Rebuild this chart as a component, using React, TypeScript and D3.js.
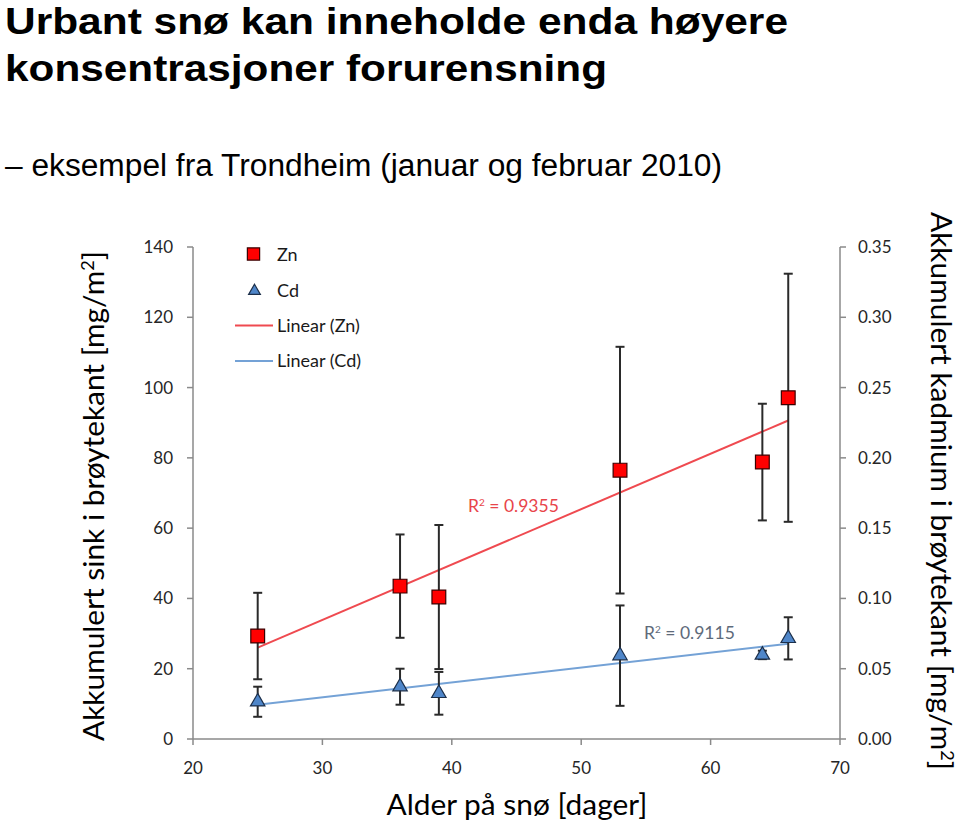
import React from 'react';
import * as d3 from 'd3';

const days = [25, 36, 39, 53, 64, 66];
const znValues = [29.3, 43.5, 40.4, 76.5, 78.8, 97.1];
const znErrors = [12.3, 14.7, 20.5, 35.1, 16.6, 35.3];
const cdValues = [0.0265, 0.0372, 0.0325, 0.0593, 0.0598, 0.0716];
const cdErrors = [0.0107, 0.0128, 0.0152, 0.0357, 0.003, 0.015];

const xTicks = [20, 30, 40, 50, 60, 70];
const yLeftTicks = [0, 20, 40, 60, 80, 100, 120, 140];
const yRightTicks = [0, 0.05, 0.1, 0.15, 0.2, 0.25, 0.3, 0.35];

const titleLines = ['Urbant snø kan inneholde enda høyere', 'konsentrasjoner forurensning'];
const subtitle = '– eksempel fra Trondheim (januar og februar 2010)';
const legendLabels = ['Zn', 'Cd', 'Linear (Zn)', 'Linear (Cd)'];
const r2Labels = ['0.9355', '0.9115'];

function linReg(xs: number[], ys: number[]) {
  const mx = d3.mean(xs)!;
  const my = d3.mean(ys)!;
  let sxy = 0, sxx = 0;
  xs.forEach((xv, i) => { sxy += (xv - mx) * (ys[i] - my); sxx += (xv - mx) ** 2; });
  const slope = sxy / sxx;
  const intercept = my - slope * mx;
  return (v: number) => intercept + slope * v;
}

const chartFont = 'Lato, "Open Sans", sans-serif';

export default function App() {
  const x = d3.scaleLinear().domain([20, 70]).range([193, 840]);
  const yL = d3.scaleLinear().domain([0, 140]).range([739, 247]);
  const yR = d3.scaleLinear().domain([0, 0.35]).range([739, 247]);

  const znFit = linReg(days, znValues);
  const cdFit = linReg(days, cdValues);
  const xMin = d3.min(days)!, xMax = d3.max(days)!;
  const line = d3.line<[number, number]>();

  const sq = d3.symbol().type(d3.symbolSquare).size(190)()!;
  const tri = d3.symbol().type(d3.symbolTriangle).size(90)()!;
  const sqLeg = d3.symbol().type(d3.symbolSquare).size(150)()!;
  const triLeg = d3.symbol().type(d3.symbolTriangle).size(60)()!;

  const axisColor = '#8a8a8a';
  const tickColor = '#262626';
  const errColor = '#2a2a2a';
  const cap = 4.5;

  const errBar = (cx: number, y1: number, y2: number, key: string) => (
    <g key={key} stroke={errColor} strokeWidth={2}>
      <line x1={cx} x2={cx} y1={y1} y2={y2} />
      <line x1={cx - cap} x2={cx + cap} y1={y1} y2={y1} />
      <line x1={cx - cap} x2={cx + cap} y1={y2} y2={y2} />
    </g>
  );

  return (
    <svg width={960} height={823} style={{ position: 'absolute', left: 0, top: 0, background: '#fff' }}>
      <rect width={960} height={823} fill="#fff" />
      {/* Titles */}
      <g fontFamily='"Liberation Sans", Arial, sans-serif' fill="#000">
        <text x={5} y={34} fontSize={37} fontWeight="bold" textLength={783} lengthAdjust="spacingAndGlyphs">{titleLines[0]}</text>
        <text x={5} y={81} fontSize={37} fontWeight="bold" textLength={602} lengthAdjust="spacingAndGlyphs">{titleLines[1]}</text>
        <text x={5} y={176} fontSize={31} textLength={717} lengthAdjust="spacingAndGlyphs">{subtitle}</text>
      </g>

      {/* Axes */}
      <g stroke={axisColor} strokeWidth={1.5} fill="none">
        <line x1={x(20)} x2={x(70)} y1={yL(0)} y2={yL(0)} />
        <line x1={x(20)} x2={x(20)} y1={yL(0)} y2={yL(140)} />
        <line x1={x(70)} x2={x(70)} y1={yR(0)} y2={yR(0.35)} />
        {xTicks.map(t => <line key={'xt' + t} x1={x(t)} x2={x(t)} y1={yL(0)} y2={yL(0) + 6} />)}
        {yLeftTicks.map(t => <line key={'yl' + t} x1={x(20) - 6} x2={x(20)} y1={yL(t)} y2={yL(t)} />)}
        {yRightTicks.map(t => <line key={'yr' + t} x1={x(70)} x2={x(70) + 6} y1={yR(t)} y2={yR(t)} />)}
      </g>
      <g fontFamily={chartFont} fontSize={17} fill={tickColor}>
        {xTicks.map(t => <text key={'xl' + t} x={x(t)} y={774} textAnchor="middle">{t}</text>)}
        {yLeftTicks.map(t => <text key={'yll' + t} x={173} y={yL(t)} dy="0.35em" textAnchor="end">{t}</text>)}
        {yRightTicks.map(t => <text key={'yrl' + t} x={858} y={yR(t)} dy="0.35em">{d3.format('.2f')(t)}</text>)}
      </g>

      {/* Axis titles */}
      <g fontFamily={chartFont} fill="#000">
        <text x={517} y={815} fontSize={28} textAnchor="middle" textLength={261} lengthAdjust="spacingAndGlyphs">Alder på snø [dager]</text>
        <text transform="translate(104,496) rotate(-90)" fontSize={28} textAnchor="middle" textLength={490} lengthAdjust="spacingAndGlyphs">
          Akkumulert sink i brøytekant [mg/m<tspan baselineShift="super" fontSize={17}>2</tspan>]
        </text>
        <text transform="translate(931,491) rotate(90)" fontSize={28} textAnchor="middle" textLength={558} lengthAdjust="spacingAndGlyphs">
          Akkumulert kadmium i brøytekant [mg/m<tspan baselineShift="super" fontSize={17}>2</tspan>]
        </text>
      </g>

      {/* Trendlines */}
      <path d={line([[x(xMin), yL(znFit(xMin))], [x(xMax), yL(znFit(xMax))]])!} stroke="#ef4a50" strokeWidth={2} fill="none" />
      <path d={line([[x(xMin), yR(cdFit(xMin))], [x(xMax), yR(cdFit(xMax))]])!} stroke="#74a2d6" strokeWidth={2} fill="none" />

      {/* Error bars */}
      {days.map((d, i) => errBar(x(d), yL(znValues[i] + znErrors[i]), yL(znValues[i] - znErrors[i]), 'ez' + i))}
      {days.map((d, i) => errBar(x(d), yR(cdValues[i] + cdErrors[i]), yR(cdValues[i] - cdErrors[i]), 'ec' + i))}

      {/* Markers */}
      {days.map((d, i) => (
        <path key={'mz' + i} d={sq} transform={`translate(${x(d)},${yL(znValues[i])})`} fill="#ff0000" stroke="#3a0000" strokeWidth={1.2} />
      ))}
      {days.map((d, i) => (
        <path key={'mc' + i} d={tri} transform={`translate(${x(d)},${yR(cdValues[i])})`} fill="#4f86c9" stroke="#1c2f4a" strokeWidth={1.2} />
      ))}

      {/* R² labels */}
      <text x={468} y={512} fontFamily={chartFont} fontSize={17.5} fill="#e8444a">
        R<tspan baselineShift="super" fontSize={10}>2</tspan> = {r2Labels[0]}
      </text>
      <text x={644} y={639} fontFamily={chartFont} fontSize={17.5} fill="#5e6a7a">
        R<tspan baselineShift="super" fontSize={10}>2</tspan> = {r2Labels[1]}
      </text>

      {/* Legend */}
      <g fontFamily={chartFont} fontSize={18} fill="#1a1a1a">
        <path d={sqLeg} transform="translate(253.5,254)" fill="#ff0000" stroke="#3a0000" strokeWidth={1.2} />
        <text x={277} y={261}>{legendLabels[0]}</text>
        <path d={triLeg} transform="translate(254.5,291)" fill="#4f86c9" stroke="#1c2f4a" strokeWidth={1.2} />
        <text x={277} y={297}>{legendLabels[1]}</text>
        <line x1={235} x2={273} y1={325.5} y2={325.5} stroke="#ef4a50" strokeWidth={2} />
        <text x={277} y={332}>{legendLabels[2]}</text>
        <line x1={235} x2={273} y1={361} y2={361} stroke="#74a2d6" strokeWidth={2} />
        <text x={277} y={367}>{legendLabels[3]}</text>
      </g>
    </svg>
  );
}
